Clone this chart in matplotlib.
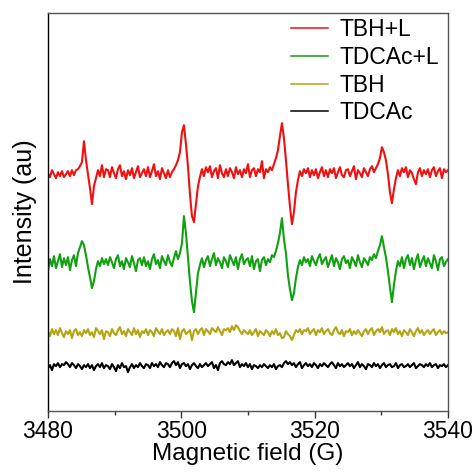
import numpy as np
import matplotlib.pyplot as plt

plt.rcParams["font.family"] = ["Liberation Sans", "DejaVu Sans"]

# field axis: 3480 G to 3540 G in 0.3 G steps (201 points)
field_start, field_step = 3480.0, 0.3

labels = ["TBH+L", "TDCAc+L", "TBH", "TDCAc"]
colors = ["#f01010", "#10a010", "#b4a414", "#000000"]

# signal values (arbitrary units, baseline = 0)
tbh_l = [
    1, -3, 4, 0, -4, 2, -2, 3, -3, 0,
    3, -2, 4, -1, 4, 5, 8, 12, 33, 14,
    0, -14, -30, -12, -4, 4, -2, 9, -3, 5,
    4, -3, 7, 1, -4, 5, 9, -2, 3, -5,
    4, -1, 6, -4, 2, 8, -3, 1, 5, -2,
    7, -3, 3, 10, -2, 3, -5, 6, 1, -4,
    4, -3, 2, 5, 9, 14, 22, 42, 49, 30,
    8, -20, -42, -48, -30, -12, -3, 5, -2, 7,
    2, 8, -3, 3, 6, -4, 9, 1, -3, 5,
    -2, 6, 2, -4, 7, 0, 4, -3, 5, 1,
    10, -3, 4, 6, -2, 5, 2, 13, -4, 5,
    2, 7, 4, 10, 16, 24, 38, 51, 36, 14,
    -10, -32, -50, -38, -18, -6, 3, -2, 5, 1,
    6, -3, 4, -1, 5, -4, 2, 7, -2, 4,
    -3, 5, 1, 6, -4, 2, 7, -1, -3, 4,
    5, -2, 3, 8, -5, 4, 1, -3, 6, 2,
    -2, 5, 8, 2, 6, 10, 16, 27, 22, 14,
    0, -18, -29, -15, -4, 4, -2, 6, 2, 7,
    -3, 4, 1, -5, -10, 2, 6, -2, 4, 0,
    5, -3, 4, 7, -2, 3, 6, -4, 5, 2,
    4,
]
tdcac_l = [
    -8, 4, -3, 7, -5, 2, 9, -4, 5, -2,
    6, -7, 3, 8, -3, 10, 16, 22, 18, 8,
    -4, -14, -25, -18, -6, 2, -3, 5, -1, 4,
    -2, 6, 1, -5, 4, 8, -3, 2, -6, 5,
    1, -4, 7, 0, -8, 3, 5, -2, 6, -3,
    2, -6, 4, 9, -1, 3, -5, 7, 2, -2,
    8, 1, -3, 5, 12, 4, 10, 20, 47, 30,
    6, -18, -38, -49, -30, -10, -2, 5, -4, 3,
    7, -3, 4, 10, -2, 5, 1, -5, 6, 2,
    -4, 8, 3, -2, 6, -6, 4, 9, -1, 3,
    5, -3, 7, -6, 2, 4, -8, 3, 6, -2,
    4, 1, 8, 6, 12, 20, 30, 45, 24, 10,
    -12, -26, -37, -30, -15, -4, 3, -2, 6, 1,
    4, -3, 7, 2, -2, 5, 9, -1, 3, 6,
    -4, 2, 8, -3, 5, 1, -6, 4, 7, 0,
    3, -5, 6, 2, -3, 8, 1, -4, 5, 2,
    -2, 6, 3, 9, 5, 12, 18, 27, 16, 6,
    -8, -24, -39, -22, -8, 2, -3, 6, -5, 4,
    8, -2, 5, -6, 3, 9, -4, 2, 7, -3,
    5, 0, -5, 8, 2, -7, 4, 6, -3, 1,
    4,
]
tbh = [
    2, -3, 4, -1, 3, -2, 5, 0, -4, 2,
    -1, 3, -5, 2, 4, -2, 1, -3, 3, 0,
    4, -2, 1, -4, 5, 2, -1, 3, -6, 2,
    1, -3, 4, 0, -2, 3, 6, -1, 2, -3,
    4, 1, -2, 5, -1, 3, -4, 2, 0, 4,
    -2, 3, 1, -3, 5, 2, -1, 4, -2, 1,
    3, -1, 4, 2, -3, 5, -6, 2, 4, -1,
    1, 3, -7, 2, 4, -1, 3, 5, -2, 4,
    2, -1, 5, 3, 1, 6, 2, -2, 4, 3,
    5, 1, 7, 3, 8, 6, 2, -1, 3, 1,
    -1, 3, -2, 1, 4, -3, 2, 0, -2, 3,
    1, -3, 2, -1, 4, -2, 0, -5, -4, 2,
    -1, -3, -7, -2, 3, 1, 4, -1, 3, 2,
    5, -1, 2, 4, -2, 3, 1, 5, -1, 2,
    4, 0, -2, 3, 6, 1, -1, 3, -3, 2,
    1, 4, -2, 2, -1, 3, 0, -3, 2, 4,
    -1, 3, 5, -2, 2, 4, 1, 6, -1, 2,
    3, -2, 4, 1, 5, -1, 2, -3, 3, 1,
    -2, 4, 1, -3, 2, 5, 0, 3, -2, 1,
    3, -1, 2, 4, -2, 1, 3, -1, 2, 0,
    1,
]
tdcac = [
    -2, 1, -4, 2, 0, 3, -1, 2, 1, 4,
    2, -1, 3, 1, -2, 2, 0, -3, 1, -1,
    2, -2, 1, -4, 0, 2, -1, 3, -2, 1,
    0, -3, 2, -1, -5, 1, -2, 3, -1, 0,
    -6, -1, 2, -2, 1, -1, 3, 0, -2, 2,
    1, -2, 3, 0, 2, -1, 4, 1, -1, 3,
    2, -1, 3, 5, 1, 4, -2, 2, 3, 0,
    2, -3, 1, 3, 0, -2, 2, -1, 1, 3,
    0, 2, 4, -2, 1, -4, 3, 5, 2, 1,
    4, 2, 6, 1, 3, 5, -1, 2, 0, 3,
    -1, 2, -3, 1, 0, -2, 1, -1, 2, 0,
    -2, 1, -1, 2, -3, 0, 1, -1, 3, 5,
    2, 4, 1, 3, -1, 2, 4, -2, 1, 3,
    0, 2, -1, 3, 1, -2, 2, 0, 3, 1,
    -1, 2, 4, 1, -2, 3, 0, 2, -1, 1,
    3, 0, 2, -2, 1, 4, -1, 2, 0, -3,
    2, 1, -1, 3, 0, 2, -2, 1, 3, -1,
    1, 2, -1, 0, 3, -2, 1, 2, -1, 0,
    2, -1, 1, 3, -2, 0, 2, 1, -1, 2,
    0, 3, -1, 1, 2, -2, 1, 0, 2, -1,
    1,
]
series = [tbh_l, tdcac_l, tbh, tdcac]

# vertical stacking of the traces
offsets = [237, 148, 78, 45]

field = field_start + field_step * np.arange(len(tbh_l))

fig = plt.figure(figsize=(4.75, 4.72), dpi=100)
ax = fig.add_axes([0.101, 0.129, 0.842, 0.843])

for y, off, c, lab in zip(series, offsets, colors, labels):
    ax.plot(field, np.array(y) + off, color=c, lw=1.5, label=lab)

ax.set_xlim(3480, 3540)
ax.set_ylim(0, 398)
ax.set_xticks([3480, 3500, 3520, 3540])
ax.set_xticks(np.arange(3490, 3540, 20), minor=True)
ax.set_yticks([])
ax.tick_params(axis="x", which="major", direction="out", length=5, width=1,
               labelsize=16.5, pad=1.5, colors="#333333", labelcolor="black")
ax.tick_params(axis="x", which="minor", direction="out", length=3, width=1,
               colors="#333333")
for s in ax.spines.values():
    s.set_color("#555555")
    s.set_linewidth(1.0)
ax.spines["left"].set_color("black")

ax.set_xlabel("Magnetic field (G)", fontsize=17.5, labelpad=0)
ax.set_ylabel("Intensity (au)", fontsize=18, labelpad=8)

leg = ax.legend(loc="upper right", frameon=False, fontsize=16.5, handlelength=1.6,
                handletextpad=0.5, labelspacing=0.2, borderaxespad=0.0,
                bbox_to_anchor=(1.0, 1.01))
for h in leg.get_lines():
    h.set_linewidth(1.1)

fig.savefig("out.png", dpi=100)
